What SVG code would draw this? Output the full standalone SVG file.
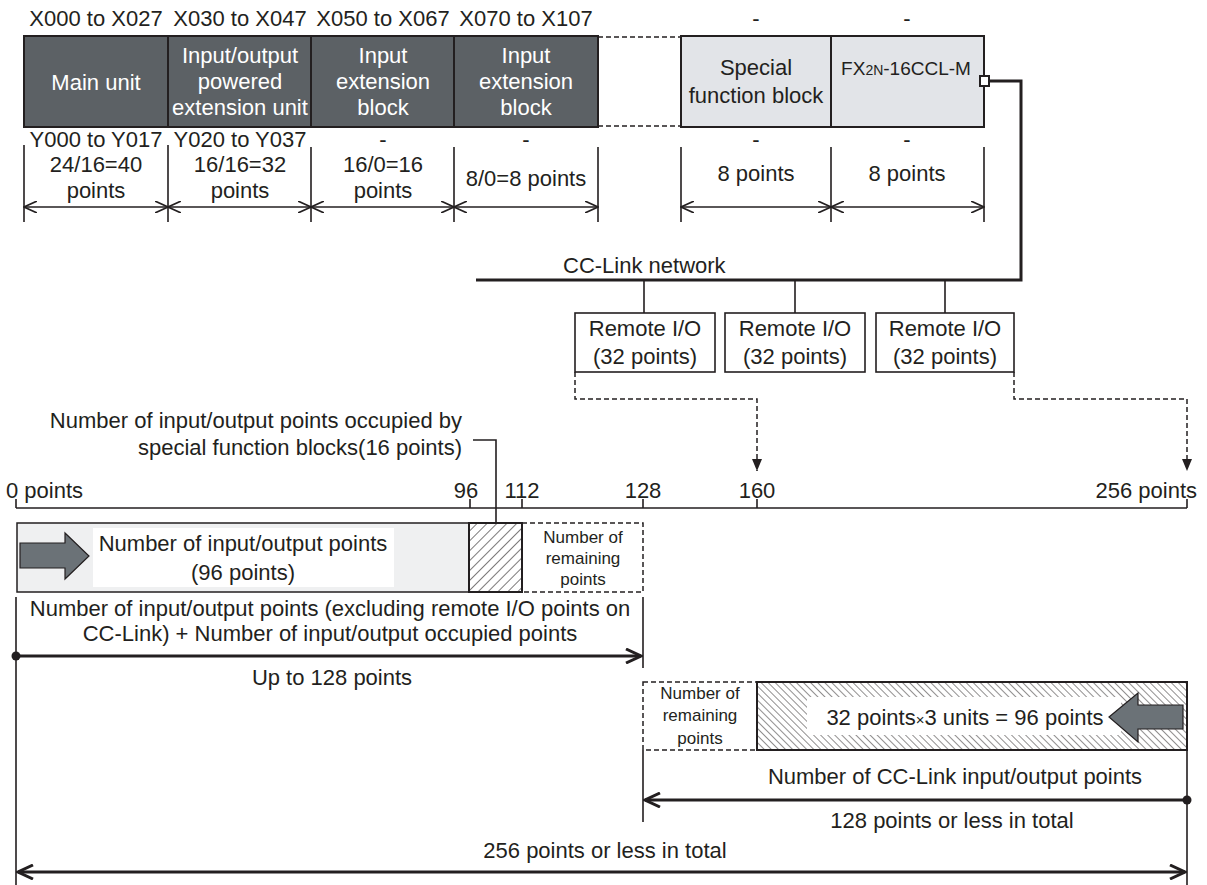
<svg xmlns="http://www.w3.org/2000/svg" width="1207" height="885" viewBox="0 0 1207 885">
<style>
text{font-family:"Liberation Sans",Arial,sans-serif;fill:#231f20;font-size:22px}
.c{text-anchor:middle}
.w{fill:#ffffff}
.s{font-size:17px}
.ln{stroke:#231f20;stroke-width:1.6;fill:none}
.thk{stroke:#231f20;stroke-width:3;fill:none}
.dsh{stroke:#231f20;stroke-width:1.5;fill:none;stroke-dasharray:5 3}
.dark{fill:#5c6165;stroke:#231f20;stroke-width:2}
.light{fill:#e2e4e8;stroke:#231f20;stroke-width:2}
.rbox{fill:#ffffff;stroke:#231f20;stroke-width:1.6}
.garrow{fill:#6b7277;stroke:#231f20;stroke-width:1.2}
</style>
<defs>
<marker id="op" viewBox="0 0 14 12" refX="13" refY="6" markerWidth="14" markerHeight="12" markerUnits="userSpaceOnUse" orient="auto-start-reverse"><path d="M0,0 L13,6 L0,12" fill="none" stroke="#231f20" stroke-width="1.6"/></marker>
<marker id="opk" viewBox="0 0 18 16" refX="16" refY="8" markerWidth="18" markerHeight="16" markerUnits="userSpaceOnUse" orient="auto-start-reverse"><path d="M1,1 L16,8 L1,15" fill="none" stroke="#231f20" stroke-width="3"/></marker>
<marker id="tri" viewBox="0 0 12 10" refX="12" refY="5" markerWidth="12" markerHeight="10" markerUnits="userSpaceOnUse" orient="auto"><path d="M0,0 L12,5 L0,10 z" fill="#231f20"/></marker>
<pattern id="h1" patternUnits="userSpaceOnUse" width="7" height="7" patternTransform="rotate(45)"><rect width="7" height="7" fill="#fff"/><line x1="0" y1="0" x2="0" y2="7" stroke="#231f20" stroke-width="1.2"/></pattern>
<pattern id="h2" patternUnits="userSpaceOnUse" width="5" height="5" patternTransform="rotate(-45)"><rect width="5" height="5" fill="#fff"/><line x1="0" y1="0" x2="0" y2="5" stroke="#231f20" stroke-width="1"/></pattern>
</defs>

<!-- top address labels -->
<g id="addr-labels">
<text class="c" x="96" y="26">X000 to X027</text>
<text class="c" x="240" y="26">X030 to X047</text>
<text class="c" x="383" y="26">X050 to X067</text>
<text class="c" x="526" y="26">X070 to X107</text>
<text class="c" x="756" y="26">-</text>
<text class="c" x="907" y="26">-</text>
</g>

<g id="main-unit">
<rect class="dark" x="24" y="36" width="144" height="91"/>
<text class="c w" x="96" y="90">Main unit</text>
</g>
<g id="powered-ext">
<rect class="dark" x="168" y="36" width="143" height="91"/>
<text class="c w" x="240" y="63">Input/output</text>
<text class="c w" x="240" y="89">powered</text>
<text class="c w" x="240" y="115">extension unit</text>
</g>
<g id="input-ext-1">
<rect class="dark" x="311" y="36" width="143" height="91"/>
<text class="c w" x="383" y="63">Input</text>
<text class="c w" x="383" y="89">extension</text>
<text class="c w" x="383" y="115">block</text>
</g>
<g id="input-ext-2">
<rect class="dark" x="454" y="36" width="144" height="91"/>
<text class="c w" x="526" y="63">Input</text>
<text class="c w" x="526" y="89">extension</text>
<text class="c w" x="526" y="115">block</text>
</g>
<g id="gap">
<line class="dsh" x1="598" y1="37" x2="681" y2="37"/>
<line class="dsh" x1="598" y1="126" x2="681" y2="126"/>
</g>
<g id="special-block">
<rect class="light" x="681" y="36" width="150" height="91"/>
<text class="c" x="756" y="75">Special</text>
<text class="c" x="756" y="103">function block</text>
</g>
<g id="fx2n-16ccl-m">
<rect class="light" x="831" y="36" width="153" height="91"/>
<text class="c" x="906" y="75" style="font-size:19px">FX<tspan style="font-size:14px">2N</tspan>-16CCL-M</text>
<rect x="980" y="76" width="9" height="10" fill="#fff" stroke="#231f20" stroke-width="2"/>
</g>

<!-- second row labels -->
<g id="row2-labels">
<text class="c" x="96" y="147">Y000 to Y017</text>
<text class="c" x="240" y="147">Y020 to Y037</text>
<text class="c" x="383" y="147">-</text>
<text class="c" x="526" y="147">-</text>
<text class="c" x="756" y="147">-</text>
<text class="c" x="907" y="147">-</text>
<text class="c" x="96" y="172">24/16=40</text>
<text class="c" x="96" y="198">points</text>
<text class="c" x="240" y="172">16/16=32</text>
<text class="c" x="240" y="198">points</text>
<text class="c" x="383" y="172">16/0=16</text>
<text class="c" x="383" y="198">points</text>
<text class="c" x="526" y="186">8/0=8 points</text>
<text class="c" x="756" y="181">8 points</text>
<text class="c" x="907" y="181">8 points</text>
</g>

<g id="connectors">
<!-- dimension ticks -->
<path class="ln" d="M24,145V222 M168,145V222 M311,147V222 M454,147V222 M598,147V222 M681,147V222 M831,147V222 M984,147V222"/>
<line class="ln" x1="24" y1="207" x2="168" y2="207" marker-start="url(#op)" marker-end="url(#op)"/>
<line class="ln" x1="168" y1="207" x2="311" y2="207" marker-start="url(#op)" marker-end="url(#op)"/>
<line class="ln" x1="311" y1="207" x2="454" y2="207" marker-start="url(#op)" marker-end="url(#op)"/>
<line class="ln" x1="454" y1="207" x2="598" y2="207" marker-start="url(#op)" marker-end="url(#op)"/>
<line class="ln" x1="681" y1="207" x2="831" y2="207" marker-start="url(#op)" marker-end="url(#op)"/>
<line class="ln" x1="831" y1="207" x2="984" y2="207" marker-start="url(#op)" marker-end="url(#op)"/>

<!-- CC-Link network -->
<path class="thk" d="M989,81 H1021 V280 H476"/>
<path class="ln" d="M644,280V313 M795,280V313 M945,280V313"/>

<!-- dashed assignment arrows -->
<path class="dsh" d="M575,372 V399 H757 V471" marker-end="url(#tri)"/>
<path class="dsh" d="M1014,372 V399 H1187 V471" marker-end="url(#tri)"/>

<!-- axis -->
<path class="ln" d="M16,508 H1187 M16,499V508 M470,499V508 M522,499V508 M643,499V508 M757,499V508 M1187,499V508"/>
<!-- leader -->
<path class="ln" d="M473,440 H496 V542"/>
<circle cx="496" cy="542" r="4" fill="#231f20"/>

<!-- lower verticals -->
<path class="ln" d="M16,597 V885 M643,597 V668 M643,750 V822 M1187,750 V885"/>
<!-- up to 128 -->
<circle cx="16" cy="656" r="4.5" fill="#231f20"/>
<line class="thk" x1="16" y1="656" x2="641" y2="656" marker-end="url(#opk)"/>
<!-- CC-Link 128 -->
<circle cx="1187" cy="800" r="4.5" fill="#231f20"/>
<line class="thk" x1="1187" y1="800" x2="645" y2="800" marker-end="url(#opk)"/>
<!-- 256 total -->
<line class="thk" x1="18" y1="872" x2="1185" y2="872" marker-start="url(#opk)" marker-end="url(#opk)"/>
</g>

<g id="network-label">
<text x="563" y="273">CC-Link network</text>
</g>

<g id="remote-io-1">
<rect class="rbox" x="575" y="313" width="140" height="59"/>
<text class="c" x="645" y="336">Remote I/O</text>
<text class="c" x="645" y="364">(32 points)</text>
</g>
<g id="remote-io-2">
<rect class="rbox" x="725" y="313" width="140" height="59"/>
<text class="c" x="795" y="336">Remote I/O</text>
<text class="c" x="795" y="364">(32 points)</text>
</g>
<g id="remote-io-3">
<rect class="rbox" x="876" y="313" width="138" height="59"/>
<text class="c" x="945" y="336">Remote I/O</text>
<text class="c" x="945" y="364">(32 points)</text>
</g>

<g id="special-note">
<text x="462" y="428" text-anchor="end">Number of input/output points occupied by</text>
<text x="462" y="455" text-anchor="end">special function blocks(16 points)</text>
</g>

<g id="axis-labels">
<text x="6" y="498">0 points</text>
<text class="c" x="466" y="498">96</text>
<text class="c" x="522" y="498">112</text>
<text class="c" x="643" y="498">128</text>
<text class="c" x="757" y="498">160</text>
<text x="1197" y="498" text-anchor="end">256 points</text>
</g>

<g id="bar-local">
<rect x="17" y="523" width="452" height="69" fill="#eff0f1" stroke="#231f20" stroke-width="1.5"/>
<rect x="93" y="528" width="301" height="59" fill="#ffffff"/>
<polygon class="garrow" points="20,543 65,543 65,533 89,556 65,579 65,568 20,568"/>
<text class="c" x="243" y="551">Number of input/output points</text>
<text class="c" x="243" y="580">(96 points)</text>
</g>
<g id="bar-special">
<rect x="469" y="523" width="53" height="69" fill="url(#h1)" stroke="#231f20" stroke-width="2"/>
</g>
<g id="bar-remaining-1">
<rect class="dsh" x="522" y="523" width="121" height="69"/>
<text class="c s" x="583" y="543">Number of</text>
<text class="c s" x="583" y="564">remaining</text>
<text class="c s" x="583" y="585">points</text>
</g>

<g id="local-labels">
<text class="c" x="330" y="616">Number of input/output points (excluding remote I/O points on</text>
<text class="c" x="330" y="641">CC-Link) + Number of input/output occupied points</text>
<text class="c" x="332" y="685">Up to 128 points</text>
</g>

<g id="bar-remaining-2">
<rect class="dsh" x="643" y="682" width="114" height="68"/>
<text class="c s" x="700" y="699">Number of</text>
<text class="c s" x="700" y="721">remaining</text>
<text class="c s" x="700" y="744">points</text>
</g>
<g id="bar-cclink">
<rect x="757" y="682" width="430" height="68" fill="url(#h2)" stroke="#231f20" stroke-width="2"/>
<rect x="807" y="697" width="314" height="38" fill="#ffffff"/>
<text class="c" x="965" y="725">32 points<tspan style="font-size:15px">×</tspan>3 units = 96 points</text>
<polygon class="garrow" points="1109,717 1138,693 1138,705 1183,705 1183,729 1138,729 1138,742"/>
</g>

<g id="cclink-labels">
<text class="c" x="955" y="784">Number of CC-Link input/output points</text>
<text class="c" x="952" y="828">128 points or less in total</text>
<text class="c" x="605" y="858">256 points or less in total</text>
</g>
</svg>
